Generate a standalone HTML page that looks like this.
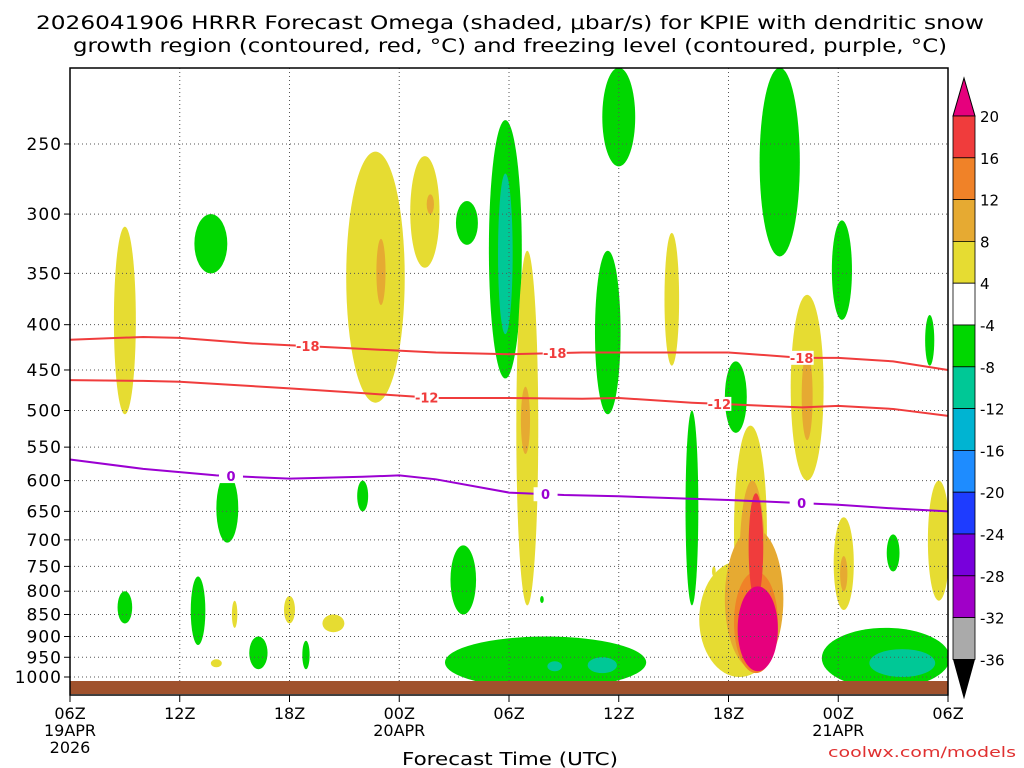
<!DOCTYPE html>
<html><head><meta charset="utf-8"><style>
body{margin:0;background:#fff;width:1024px;height:768px;overflow:hidden}
svg{display:block;font-family:"DejaVu Sans","Liberation Sans",sans-serif}
</style></head><body>
<svg id="chart" width="1024" height="768" viewBox="0 0 1024 768">
<text x="510" y="29" text-anchor="middle" font-size="19" textLength="948" lengthAdjust="spacingAndGlyphs">2026041906 HRRR Forecast Omega (shaded, μbar/s) for KPIE with dendritic snow</text>
<text x="510" y="52" text-anchor="middle" font-size="19" textLength="874" lengthAdjust="spacingAndGlyphs">growth region (contoured, red, °C) and freezing level (contoured, purple, °C)</text>
<g id="plot"></g>
<text x="510" y="765" text-anchor="middle" font-size="18" textLength="216" lengthAdjust="spacingAndGlyphs">Forecast Time (UTC)</text>
<text x="1016" y="757" text-anchor="end" font-size="14" fill="#e03030" textLength="188" lengthAdjust="spacingAndGlyphs">coolwx.com/models</text>
</svg>
<script>
const pTicks=[250,300,350,400,450,500,550,600,650,700,750,800,850,900,950,1000];
const tTicks=[0,6,12,18,24,30,36,42,48];
const tLabels=["06Z","12Z","18Z","00Z","06Z","12Z","18Z","00Z","06Z"];
const dateLabels=[[0,"19APR"],[18,"20APR"],[42,"21APR"]];
const lineM18=[416,413,414,420,422,426,430,432,430,430,430,436,436,440,450];
const lineM18T=[0,4,6,10,12,16,20,24,28,32,36,40,42,45,48];
const lineM12=[462,463,464,472,478,484,484,485,484,490,492,496,494,498,507];
const lineM12T=[0,4,6,12,16,20,24,28,30,34,36,40,42,45,48];
const line0=[568,582,587,592,597,594,592,598,619,623,625,631,639,645,650];
const line0T=[0,4,6,8,12,16,18,20,24,27,30,36,42,45,48];
// blobs: [time, pTop, pBot, halfWidthHours, value]
const blobs=[
[3.0,310,505,0.6,6],[7.7,300,350,0.9,-6],[16.7,255,490,1.6,6],[17.0,320,380,0.25,10],
[19.4,258,345,0.8,6],[19.7,285,300,0.2,10],[21.7,290,325,0.6,-6],[23.8,235,460,0.9,-6],[23.8,270,410,0.4,-10],
[25,330,830,0.6,6],[24.9,470,560,0.25,10],[32.9,315,445,0.4,6],[29.4,330,505,0.7,-6],[30,205,265,0.9,-6],
[38.8,205,335,1.1,-6],[42.2,305,395,0.55,-6],[40.3,370,600,0.9,6],[40.3,430,540,0.3,10],
[36.4,440,530,0.6,-6],[34,500,830,0.35,-6],[37.2,520,900,0.9,6],[36.6,740,1000,2.2,6],
[37.3,600,920,0.7,10],[37.4,680,980,1.6,10],[37.5,760,990,1.2,14],[37.5,620,820,0.4,18],[37.6,790,985,1.1,22],
[26,900,1030,5.5,-6],[26.5,960,985,0.4,-10],[29.1,950,990,0.8,-10],
[44.6,880,1030,3.5,-6],[45.5,930,1000,1.8,-10],
[21.5,710,850,0.7,-6],[8.6,590,705,0.6,-6],[16,600,650,0.3,-6],[42.3,660,840,0.55,6],[42.3,730,800,0.2,10],
[45,690,760,0.35,-6],[47.5,600,820,0.6,6],[7,770,920,0.4,-6],[3,800,870,0.4,-6],[10.3,900,980,0.5,-6],
[12,810,870,0.3,6],[14.4,850,890,0.6,6],[9,820,880,0.15,6],[12.9,910,980,0.2,-6],[47,390,445,0.25,-6],
[8,955,975,0.3,6],[25.8,810,825,0.1,-6],[35.2,750,770,0.1,6]];
const cbLabels=[20,16,12,8,4,-4,-8,-12,-16,-20,-24,-28,-32,-36];
const cbColors=["#f03c3c","#f08228","#e6aa32","#e6dc32","#ffffff","#00d700","#00c896","#00b4d2","#1e8cff","#1e3cff","#7800dc","#a000c8","#aaaaaa"];

const X0=70,X1=948,Y1000=677,K=384.5;
const xs=t=>X0+(X1-X0)*t/48;
const ys=p=>Y1000-(Math.log(1000)-Math.log(p))*K;
const NS="http://www.w3.org/2000/svg";
const g=document.getElementById('plot');
function mk(tag,a,parent){const e=document.createElementNS(NS,tag);for(const k in a)e.setAttribute(k,a[k]);(parent||g).appendChild(e);return e;}
function col(v){const a=Math.abs(v);if(v>0){return a>=20?"#e6007d":a>=16?"#f03c3c":a>=12?"#f08228":a>=8?"#e6aa32":"#e6dc32";}return a>=12?"#00b4d2":a>=8?"#00c896":"#00d700";}
const cp=mk('clipPath',{id:'cp'});
mk('rect',{x:X0,y:68,width:X1-X0,height:627},cp);
const sh=mk('g',{'clip-path':'url(#cp)'});


const ord=blobs.slice().sort((a,b)=>Math.abs(a[4])-Math.abs(b[4]));
ord.forEach(b=>{const y0=ys(b[1]),y1=ys(b[2]);
 const e=mk('ellipse',{cx:xs(b[0]),cy:(y0+y1)/2,rx:(X1-X0)/48*b[3],ry:(y1-y0)/2,fill:col(b[4])},sh);
 
 });
pTicks.forEach(p=>{const y=ys(p);
 const l=mk('line',{x1:X0,x2:X1,y1:y,y2:y,stroke:'#555','stroke-dasharray':'1,3'});
 
 const t=mk('text',{x:62,y:y+6,'text-anchor':'end','font-size':17,'letter-spacing':1});t.textContent=p;
 
 mk('line',{x1:X0-6,x2:X0,y1:y,y2:y,stroke:'#000'});});
tTicks.forEach((h,i)=>{const x=xs(h);
 if(i>0&&i<8){const l=mk('line',{x1:x,x2:x,y1:68,y2:695,stroke:'#555','stroke-dasharray':'1,3'});
 }
 mk('line',{x1:x,x2:x,y1:695,y2:702,stroke:'#000'});
 const t=mk('text',{x:x,y:719,'text-anchor':'middle','font-size':16});t.textContent=tLabels[i];
 });
dateLabels.forEach(d=>{const t=mk('text',{x:xs(d[0]),y:736,'text-anchor':'middle','font-size':16});t.textContent=d[1];
 });
{const t=mk('text',{x:xs(0),y:753,'text-anchor':'middle','font-size':16});t.textContent="2026";
 }
const gr=mk('rect',{x:X0,y:681,width:X1-X0,height:13,fill:'#a0522d'});

function contour(ts,ps,color,lab,labT,name){
 const d=ts.map((t,i)=>(i?'L':'M')+xs(t)+','+ys(ps[i])).join(' ');
 const p=mk('path',{d:d,fill:'none',stroke:color,'stroke-width':2});
 
 labT.forEach(lt=>{let i=0;while(i<ts.length-2&&ts[i+1]<lt)i++;
  const f=(lt-ts[i])/(ts[i+1]-ts[i]);const pp=ps[i]+(ps[i+1]-ps[i])*f;
  mk('rect',{x:xs(lt)-12,y:ys(pp)-7,width:24,height:14,fill:'#fff'});
  const t=mk('text',{x:xs(lt),y:ys(pp)+5,'text-anchor':'middle','font-size':13,'font-weight':'bold',fill:color});t.textContent=lab;
  });}
contour(lineM18T,lineM18,'#f03c3c','-18',[13,26.5,40],'dgz-minus18-contour');
contour(lineM12T,lineM12,'#f03c3c','-12',[19.5,35.5],'dgz-minus12-contour');
contour(line0T,line0,'#9b00d2','0',[8.8,26,40],'freezing-level-contour');
const fr=mk('rect',{x:X0,y:68,width:X1-X0,height:627,fill:'none',stroke:'#000','stroke-width':1.5});

const cb=mk('g',{});
const CX=953,CW=22,CT=116,CS=41.8;
mk('polygon',{points:`${CX},${CT} ${CX+CW},${CT} ${CX+CW/2},78`,fill:'#e6007d',stroke:'#000'},cb);
cbColors.forEach((c,i)=>{mk('rect',{x:CX,y:CT+i*CS,width:CW,height:CS,fill:c,stroke:'#000','stroke-width':0.8},cb);});
const cbB=CT+cbColors.length*CS;
mk('polygon',{points:`${CX},${cbB} ${CX+CW},${cbB} ${CX+CW/2},${cbB+40}`,fill:'#000'},cb);
cbLabels.forEach((v,i)=>{const t=mk('text',{x:980,y:CT+i*CS+6,'font-size':15},cb);t.textContent=v;
 });
</script>
</body></html>
